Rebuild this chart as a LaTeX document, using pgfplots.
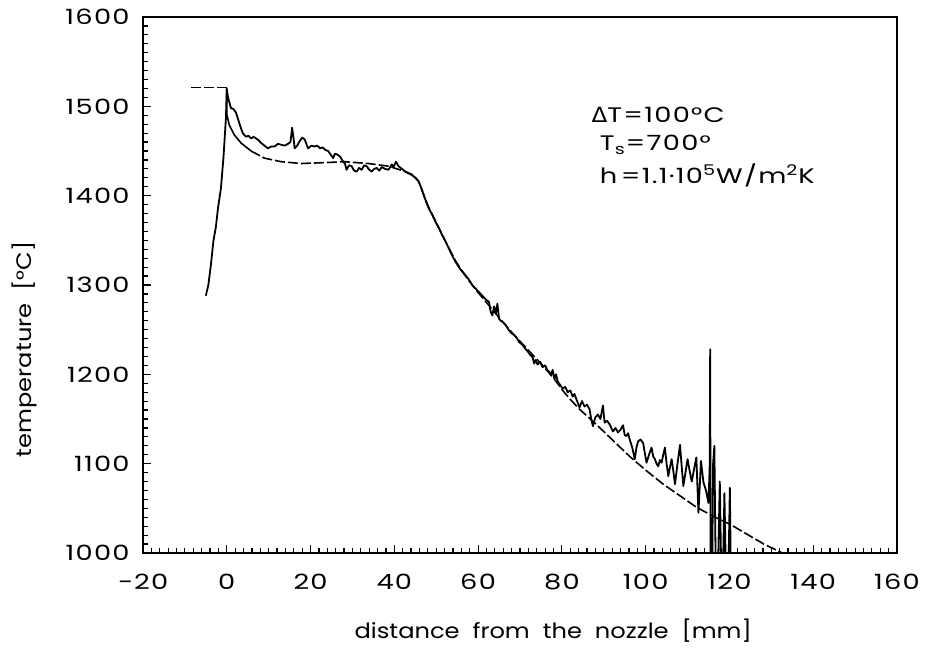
\documentclass[border=0pt]{standalone}
\usepackage{fontspec}
\setmainfont{Poppins}[FakeStretch=1.15]
\newfontfamily\tickfont{Poppins}[FakeStretch=1.3, LetterSpace=6]
\newfontfamily\dejavu{DejaVu Sans}[FakeStretch=1.1]
\usepackage{pgfplots}
\pgfplotsset{compat=1.18}
\begin{document}
\fontsize{10.5pt}{12pt}\selectfont
\begin{tikzpicture}
\begin{axis}[
  scale only axis, width=377pt, height=268pt,
  xmin=-20, xmax=160, ymin=1000, ymax=1600,
  xtick={-20,0,...,160},
  xticklabels={−20,0,20,40,60,80,100,120,140,160},
  ytick={1000,1100,...,1600},
  minor x tick num=9, minor y tick num=9,
  tick align=inside, xtick pos=bottom, ytick pos=left,
  major tick length=4pt, minor tick length=2.5pt,
  every tick/.style={black, line width=0.6pt},
  axis line style={line width=0.9pt},
  /pgf/number format/assume math mode=true,
  /pgf/number format/set thousands separator={},
  ticklabel style={font=\tickfont\fontsize{10.5pt}{12pt}\selectfont},
  xticklabel style={yshift=-7pt},
  yticklabel style={xshift=-3pt},
  xlabel={distance\ \ from\ \ the\ \ nozzle\ \ [mm]},
  ylabel={temperature\ \ [°C]},
  xlabel style={at={(axis description cs:0.544,0)}, anchor=center, yshift=-39pt, font=\fontsize{10.5pt}{12pt}\selectfont},
  ylabel style={at={(axis description cs:-0.157,0.38)}, anchor=center, font=\fontsize{10.5pt}{12pt}\selectfont},
  clip=true,
]
\coordinate (BL) at (rel axis cs:0,0);
\coordinate (TR) at (rel axis cs:1,1);
% measured
\addplot[black, line width=0.9pt, line join=round] coordinates {
(-5.0,1288)(-4.4,1300)(-3.8,1322)(-3.2,1349)(-2.6,1365)(-2.1,1386)(-1.4,1408)(-0.8,1442)(-0.2,1487)(0,1519)
(0.3,1510)(1.0,1498)(1.6,1497)(2.2,1493)(3.0,1481)(3.8,1470)(4.6,1466)(5.2,1467)(5.8,1464)(6.4,1466)
(7.0,1464)(7.6,1462)(8.2,1459)(9.0,1456)(9.8,1453)(10.6,1455)(11.4,1455)(12.2,1458)(13.0,1457)(13.8,1456)
(14.6,1458)(15.2,1460)(15.6,1476)(16.0,1462)(16.2,1453)(16.8,1456)(17.4,1461)(18.0,1465)(18.6,1463)(19.0,1458)
(19.4,1453)(20.2,1456)(20.9,1455)(21.6,1456)(22.3,1453)(22.9,1454)(23.6,1451)(24.2,1450)(24.8,1446)(25.4,1442)
(25.8,1447)(26.4,1446)(27.0,1444)(27.8,1438)(28.2,1436)(28.6,1429)(29.2,1434)(29.8,1433)(30.4,1428)(31.0,1427)
(31.6,1431)(32.2,1429)(32.8,1434)(33.4,1433)(34.0,1429)(34.6,1427)(35.2,1430)(35.8,1431)(36.4,1428)(37.0,1432)
(37.8,1430)(38.6,1429)(39.4,1435)(39.8,1432)(40.4,1438)(41.0,1433)(41.8,1430)(42.6,1427)(43.4,1425)(44.2,1423)
(45.0,1420)(45.8,1416)(46.4,1409)(47.0,1401)(47.6,1393)(48.2,1386)(49.0,1379)(49.8,1371)(50.6,1364)(51.4,1356)
(52.2,1349)(53.0,1341)(53.8,1333)(54.6,1326)(55.4,1320)(56.2,1315)(57.0,1311)(57.8,1306)(58.6,1300)(59.4,1296)
(60.2,1292)(61.0,1288)(61.8,1284)(62.6,1281)(63.0,1270)(63.4,1266)(63.8,1276)(64.2,1268)(64.6,1279)(65.0,1262)
(65.4,1260)(66.0,1258)(66.6,1255)(67.4,1249)(68.0,1246)(68.6,1244)(69.2,1241)(69.8,1236)(70.6,1233)(71.2,1229)
(71.8,1226)(72.4,1222)(73.0,1219)(73.4,1212)(73.7,1216)(74.2,1211)(74.8,1214)(75.4,1208)(76.0,1210)(76.6,1204)
(77.0,1203)(77.4,1199)(77.8,1205)(78.2,1195)(78.6,1200)(79.0,1192)(79.6,1188)(80.2,1184)(80.8,1186)(81.4,1180)
(82.0,1182)(82.6,1175)(83.0,1178)(83.4,1173)(84.2,1163)(84.8,1170)(85.4,1164)(86.0,1166)(86.6,1161)(87.0,1150)
(87.4,1142)(88.0,1152)(88.6,1155)(89.2,1150)(89.8,1165)(90.2,1146)(90.8,1148)(91.4,1144)(91.8,1140)(92.2,1136)
(92.8,1140)(93.4,1135)(94.0,1138)(94.6,1143)(95.0,1132)(95.4,1131)(95.8,1134)(96.2,1127)(96.8,1118)(97.4,1105)
(97.8,1118)(98.2,1125)(98.8,1127)(99.4,1123)(99.8,1112)(100.2,1101)(100.8,1110)(101.4,1118)(101.8,1108)(102.2,1105)
(102.6,1100)(103.0,1097)(103.4,1104)(103.8,1101)(104.2,1110)(104.6,1118)(105.0,1100)(105.4,1086)(105.8,1096)(106.2,1105)
(106.6,1092)(107.0,1077)(107.6,1100)(108.2,1121)(108.6,1097)(109.0,1075)(109.5,1090)(110.0,1105)(110.5,1092)(111.0,1080)
(111.6,1095)(112.1,1107)(112.6,1045)(113.2,1103)(113.8,1079)(114.4,1070)(115.0,1056)(115.3,1100)(115.4,1228)(115.5,990)
(115.9,990)(116.1,1100)(116.4,1120)(116.7,990)(117.3,990)(117.7,1080)(118.0,990)(118.5,990)(118.8,1067)(119.1,990)
(119.8,990)(120.1,1073)(120.3,990)
};
% model: melt temperature at the nozzle
\addplot[black, line width=0.8pt, dash pattern=on 5pt off 1.5pt] coordinates {
(-8.6,1521)(0,1521)
};
% model: solid start
\addplot[black, line width=0.8pt] coordinates {
(0,1521)(0,1491)(0.6,1479)(1.8,1468)(3.4,1459)(5.8,1450)
};
% model: dashed remainder
\addplot[black, line width=0.8pt, dash pattern=on 5pt off 1.5pt] coordinates {
(5.8,1450)(9.0,1442)(13.0,1438)(17.8,1436)(23.4,1437)(28.2,1438)(33.8,1436)(38.6,1433)(42.6,1427)(44.6,1423)
(45.8,1416)(47.0,1401)(48.2,1387)(49.8,1372)(52.2,1349)(54.6,1327)(57.0,1310)(59.4,1295)(62.6,1277)(66.0,1258)
(69.0,1242)(72.0,1227)(75.0,1212)(78.0,1196)(80.2,1182)(82.0,1172)(84.2,1161)(88.2,1144)(92.2,1126)(96.2,1108)
(100.2,1092)(104.2,1077)(108.2,1064)(112.2,1051)(116.2,1041)(120.2,1032)(124.2,1021)(128.2,1010)(132.2,1001)(133,999)
};
\node[anchor=west, inner sep=0pt, font=\tickfont] at (axis cs:87,1490) {{\dejavu Δ}T=100°C};
\node[anchor=west, inner sep=0pt, font=\tickfont] at (axis cs:89,1457) {T\textsubscript{s}=700°};
\node[anchor=west, inner sep=0pt, font=\tickfont] at (axis cs:89,1423) {h\,=1.1·10\textsuperscript{5}W/m\textsuperscript{2}K};
\end{axis}
\path ([shift={(-71.5pt,-57.5pt)}]BL) rectangle ([shift={(15pt,8.5pt)}]TR);
\end{tikzpicture}
\end{document}
